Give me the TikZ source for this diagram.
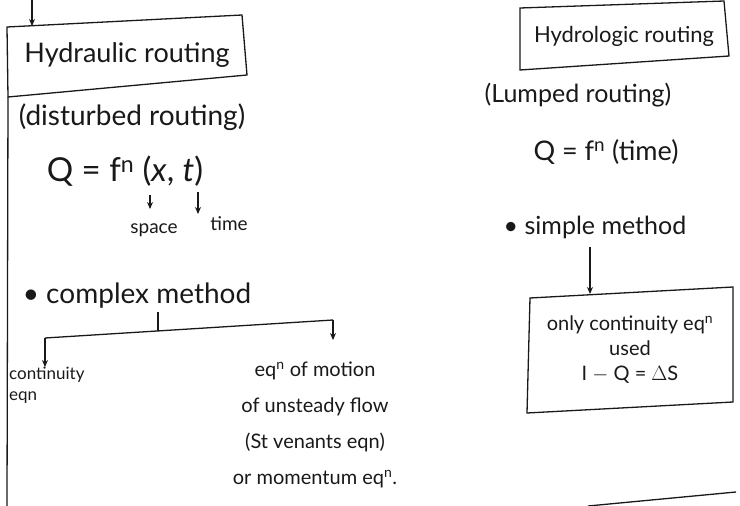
\documentclass[tikz,border=0pt]{standalone}
\usepackage{fontspec}
\setmainfont{Lato}
\usetikzlibrary{arrows.meta}
\begin{document}
\begin{tikzpicture}[x=1pt,y=-1pt,
  line/.style={line width=1.3pt, black!90},
  arr/.style={line, -{Stealth[length=7pt,width=6pt]}},
  txt/.style={inner sep=0pt, text=black!90},
  big/.style={txt, font=\fontsize{28}{32}\selectfont},
  mid/.style={txt, font=\fontsize{22}{26}\selectfont},
  small/.style={txt, font=\fontsize{19}{22}\selectfont}]
\useasboundingbox (0,0) rectangle (740,506);

% ---------- left branch ----------
\node[big, font=\fontsize{27}{32}\selectfont] (hyd) at (127,55) {Hydraulic routing};
\coordinate (htl) at (7,27);
\coordinate (htr) at (242,15);
\coordinate (hbr) at (247,75);
\coordinate (hbl) at (8,97);
\draw[line] (htl) -- (htr) -- (hbr) -- (hbl) -- cycle;
\coordinate (topin) at (32,0);
\coordinate (hydtop) at (32,26);
\draw[arr] (topin) -- (hydtop);
\coordinate (leftend) at (7,506);
\draw[line] (hbl) -- (leftend);

\node[big] (dist) at (132,117) {(disturbed routing)};
\node[txt, font=\fontsize{33}{36}\selectfont] (qxt) at (125,171) {Q = f\textsuperscript{n} (\textit{x}, \textit{t})};
\coordinate (xsrc) at (150,195);
\coordinate (tsrc) at (198,192);
\node[small] (space) at (154,230) {space};
\node[small] (time) at (229,224) {time};
\draw[arr] (xsrc) -- (150,209);
\draw[arr] (tsrc) -- (198,214);

\node[big] (complex) at (137,296) {\textbullet\ complex method};
\coordinate (junc) at (158,331);
\coordinate (lend) at (45,338);
\coordinate (rend) at (333,320);
\draw[line] (complex.south -| junc) ++(0,3) -- (junc);
\draw[line] (lend) -- (rend);
\node[small, font=\fontsize{17}{21}\selectfont, align=left, anchor=north west] (cont) at (9,367) {continuity\\eqn};
\node[txt, align=center, font=\fontsize{20}{36}\selectfont, anchor=north] (motion) at (315,362)
  {eq\textsuperscript{n} of motion\\of unsteady flow\\(St venants eqn)\\or momentum eq\textsuperscript{n}.};
\draw[arr] (lend) -- (cont.north -| lend);
\draw[arr] (rend) -- (333,340);

% ---------- right branch ----------
\node[mid] (hydro) at (624,36) {Hydrologic routing};
\coordinate (rtl) at (520,8);
\coordinate (rtr) at (724,1);
\coordinate (rbr) at (729,56);
\coordinate (rbl) at (520,70);
\draw[line] (rtl) -- (rtr) -- (rbr) -- (rbl) -- cycle;

\node[txt, font=\fontsize{25}{28}\selectfont] (lump) at (578,95) {(Lumped routing)};
\node[txt, font=\fontsize{27}{30}\selectfont] (qt) at (606,152) {Q = f\textsuperscript{n} (time)};
\node[txt, font=\fontsize{25}{28}\selectfont] (simple) at (595,227) {\textbullet\ simple method};

\node[txt, align=center, font=\fontsize{20}{25}\selectfont] (only) at (630,350)
  {only continuity eq\textsuperscript{n}\\used\\I $-$ Q = $\Delta$S};
\coordinate (otl) at (530,298);
\coordinate (otr) at (733,287);
\coordinate (obr) at (733,402);
\coordinate (obl) at (527,413);
\draw[line] (otl) -- (otr) -- (obr) -- (obl) -- cycle;
\draw[arr] (simple.south -| 590,0) ++(0,8) -- (590,294);

\coordinate (bl1) at (588,506);
\coordinate (bl2) at (736,492);
\draw[line] (bl1) -- (bl2);
\end{tikzpicture}
\end{document}
